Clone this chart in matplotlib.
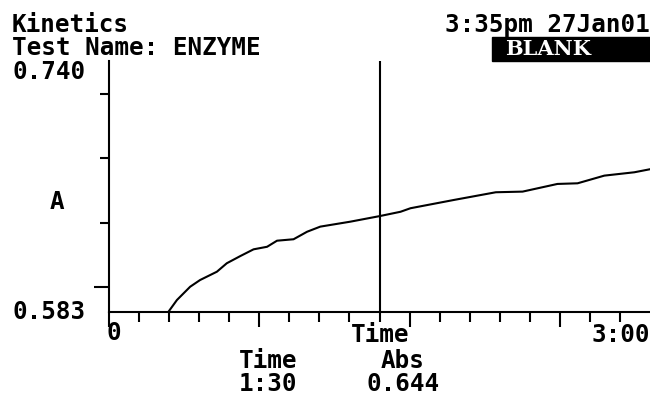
import matplotlib
matplotlib.use('Agg')
import matplotlib.pyplot as plt
from matplotlib.patches import Rectangle

# kinetics trace (time in s, absorbance)
time_s = [19.8, 22.6, 27.0, 30.3, 35.9, 39.2, 43.7, 48.1, 52.6, 55.9, 61.4,
          65.9, 70.3, 80.3, 90.1, 97.0, 100.3, 114.8, 128.7, 137.6, 149.2,
          155.9, 164.8, 174.8, 180.0]
absorb = [0.5832, 0.5905, 0.5988, 0.6030, 0.6082, 0.6135, 0.6180, 0.6222,
          0.6238, 0.6276, 0.6285, 0.6332, 0.6364, 0.6395, 0.6430, 0.6457,
          0.6479, 0.6531, 0.6579, 0.6583, 0.6631, 0.6635, 0.6683, 0.6704,
          0.6723]

y_min, y_max = 0.583, 0.740
t_max = 180
cursor_t = 90
cursor_abs = '0.644'
x_minor = [10, 20, 30, 40, 60, 70, 80, 90, 110, 120, 130, 140, 160, 170]
x_major = [0, 50, 100, 150]
y_ticks = [0.6388, 0.6791, 0.7193]
y_long = [0.5986]

W, H = 650, 396
FONT = 'DejaVu Sans Mono'
FS = 17.5


def px(x, y):
    return x / W, 1 - y / H


fig = plt.figure(figsize=(6.5, 3.96), dpi=100)
ax = fig.add_axes([109 / W, 1 - 312 / H, 541 / W, 251 / H])
ax.set_xlim(0, t_max)
ax.set_ylim(y_min, y_max)

ax.plot(time_s, absorb, color='black', lw=1.5)
ax.axvline(cursor_t, color='black', lw=1.5)

for s in ['top', 'right']:
    ax.spines[s].set_visible(False)
for s in ['left', 'bottom']:
    ax.spines[s].set_linewidth(1.5)

ax.set_xticks(x_major)
ax.set_xticks(x_minor, minor=True)
ax.set_yticks(y_long)
ax.set_yticks(y_ticks, minor=True)
ax.tick_params(axis='x', which='major', length=11, width=1.5, direction='out', labelbottom=False)
ax.tick_params(axis='x', which='minor', length=7, width=1.5, direction='out')
ax.tick_params(axis='y', which='major', length=11, width=1.5, direction='out', labelleft=False)
ax.tick_params(axis='y', which='minor', length=6.5, width=1.5, direction='out')

txt = dict(family=FONT, weight='bold', fontsize=FS, color='black')

fig.text(*px(12, 25), 'Kinetics', ha='left', va='center', **txt)
fig.text(*px(12, 48), 'Test Name: ENZYME', ha='left', va='center', **txt)
fig.text(*px(650, 25), '3:35pm 27Jan01', ha='right', va='center', **txt)

fig.patches.append(Rectangle(px(492, 61), 158 / W, 24 / H,
                             transform=fig.transFigure, color='black'))
fig.text(*px(548, 49), 'BLANK', ha='center', va='center', family='DejaVu Serif',
         weight='bold', fontsize=15, color='white')

fig.text(*px(12, 72), '0.740', ha='left', va='center', **txt)
fig.text(*px(57, 202), 'A', ha='center', va='center', **txt)
fig.text(*px(12, 312), '0.583', ha='left', va='center', **txt)

fig.text(*px(114, 333), '0', ha='center', va='center', **txt)
fig.text(*px(380, 335), 'Time', ha='center', va='center', **txt)
fig.text(*px(650, 335), '3:00', ha='right', va='center', **txt)

fig.text(*px(268, 361), 'Time', ha='center', va='center', **txt)
fig.text(*px(268, 384), '1:30', ha='center', va='center', **txt)
fig.text(*px(403, 361), 'Abs', ha='center', va='center', **txt)
fig.text(*px(403, 384), cursor_abs, ha='center', va='center', **txt)

fig.savefig('out.png', dpi=100)
